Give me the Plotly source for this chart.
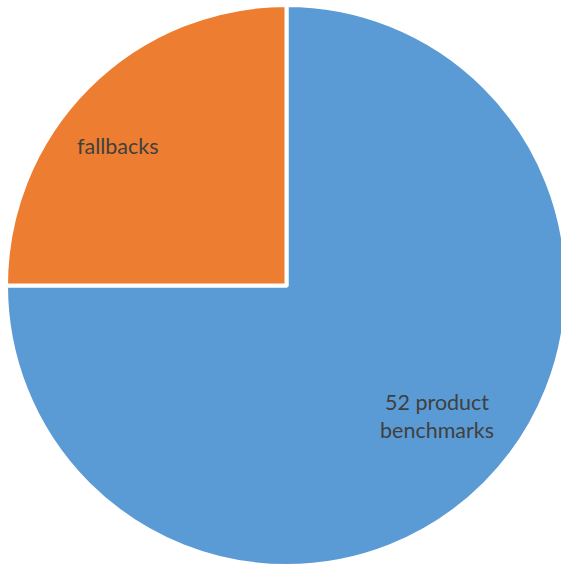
import plotly.graph_objects as go

labels = ["52 product<br>benchmarks", "fallbacks"]
values = [75, 25]
colors = ["#5B9BD5", "#ED7D31"]

W, H = 572, 566
cx, cy, r = 286.5, 285.5, 280.5

fig = go.Figure(go.Pie(
    labels=labels,
    values=values,
    sort=False,
    direction="clockwise",
    rotation=0,
    marker=dict(colors=colors, line=dict(color="white", width=4)),
    textinfo="none",
    hoverinfo="label+percent",
    showlegend=False,
    domain=dict(x=[(cx - r) / W, (cx + r) / W], y=[(H - cy - r) / H, (H - cy + r) / H]),
))

text_pos = [(437, 416), (118, 146)]
for lab, (tx, ty) in zip(labels, text_pos):
    fig.add_annotation(
        x=tx / W, y=1 - ty / H, xref="paper", yref="paper",
        xanchor="center", yanchor="middle",
        text=lab, showarrow=False, align="center",
        font=dict(family="Lato", size=21.5, color="#404040"),
    )

fig.update_layout(
    width=W, height=H,
    margin=dict(l=0, r=0, t=0, b=0, pad=0, autoexpand=False),
    paper_bgcolor="white", plot_bgcolor="white",
)

fig.write_html("out.html", post_script="document.body.style.overflow='hidden';document.body.style.margin='0';")
